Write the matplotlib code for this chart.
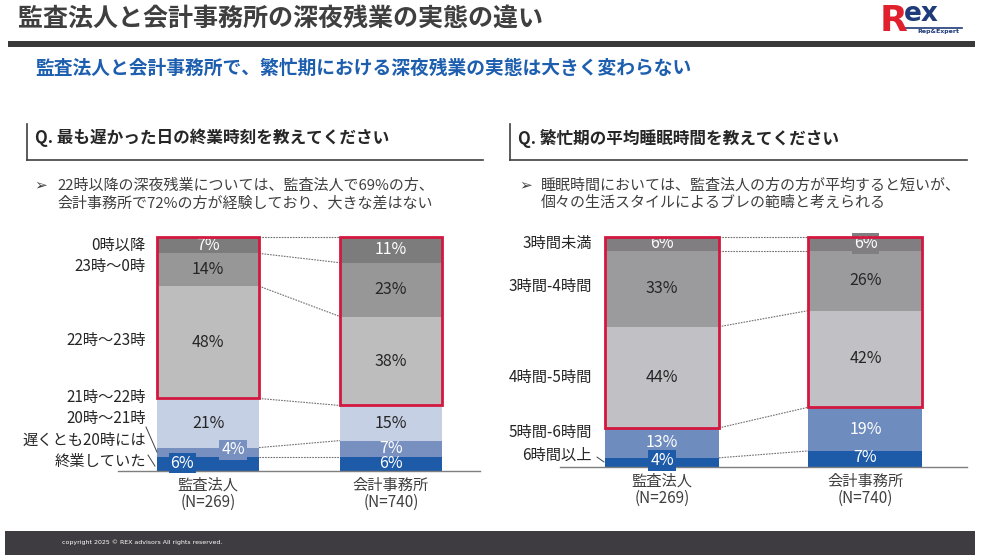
import matplotlib
matplotlib.use("Agg")
import matplotlib.pyplot as plt
from matplotlib.patches import Rectangle
from matplotlib.lines import Line2D
import numpy as np

plt.rcParams['font.family'] = ['Noto Sans CJK JP', 'DejaVu Sans']

# ---------------- data ----------------
title = "監査法人と会計事務所の深夜残業の実態の違い"
subtitle = "監査法人と会計事務所で、繁忙期における深夜残業の実態は大きく変わらない"
q_left = "Q. 最も遅かった日の終業時刻を教えてください"
q_right = "Q. 繁忙期の平均睡眠時間を教えてください"
note_left = ["22時以降の深夜残業については、監査法人で69%の方、",
             "会計事務所で72%の方が経験しており、大きな差はない"]
note_right = ["睡眠時間においては、監査法人の方の方が平均すると短いが、",
              "個々の生活スタイルによるブレの範疇と考えられる"]
footer = "copyright 2025 © REX advisors All rights reserved."

groups = ["監査法人\n(N=269)", "会計事務所\n(N=740)"]

left_categories = ["遅くとも20時には\n終業していた", "20時〜21時", "21時〜22時",
                   "22時〜23時", "23時〜0時", "0時以降"]
left_audit = [6, 4, 21, 48, 14, 7]
left_acct = [6, 7, 15, 38, 23, 11]

right_categories = ["6時間以上", "5時間-6時間", "4時間-5時間", "3時間-4時間", "3時間未満"]
right_audit = [4, 13, 44, 33, 6]
right_acct = [7, 19, 42, 26, 6]

# ---------------- style / layout ----------------
left_colors = ['#1d5aa8', '#7890c0', '#c6d0e4', '#bdbdbd', '#979797', '#7c7c7c']
left_text = ['white', 'white', '#262626', '#262626', '#262626', 'white']
right_colors = ['#1d5aa8', '#6f8cbf', '#c1c0c4', '#9b9a9c', '#807e81']
right_text = ['white', 'white', '#262626', '#262626', 'white']
left_cat_y = [8.6, 22.6, 31.2, 55.6, 87.2, 96.6]
right_cat_y = [5.2, 15.2, 39, 78.3, 97]
RED = '#d4173f'
W, H = 994, 558

fig = plt.figure(figsize=(W / 100, H / 100), dpi=100)
fig.patch.set_facecolor('white')


def fx(px):
    return px / W


def fy(py):
    return 1 - py / H


def hline(x0, x1, y, color, lw):
    fig.add_artist(Line2D([fx(x0), fx(x1)], [fy(y), fy(y)], color=color, lw=lw,
                          transform=fig.transFigure))


def vline(x, y0, y1, color, lw):
    fig.add_artist(Line2D([fx(x), fx(x)], [fy(y0), fy(y1)], color=color, lw=lw,
                          transform=fig.transFigure))


# title & header bar
fig.text(fx(18), fy(19), title, fontsize=18, fontweight='bold', color='#3f3f3f',
         ha='left', va='center')
fig.add_artist(Rectangle((fx(8), fy(47)), fx(975) - fx(8), 6 / H,
                         transform=fig.transFigure, color='#3a3a3a', lw=0))

# logo
fig.text(fx(880), fy(38), "R", fontsize=26, fontweight='bold', color='#e1202d',
         family='DejaVu Sans', ha='left', va='bottom')
fig.text(fx(904), fy(27), "ex", fontsize=19, fontweight='bold', color='#1f3b7a',
         family='DejaVu Sans', ha='left', va='bottom')
hline(905, 962, 28, '#1f3b7a', 1.2)
fig.text(fx(917), fy(32), "Rep&Expert", fontsize=4.5, fontweight='bold', color='#1f3b7a',
         family='DejaVu Sans', ha='left', va='center')

# subtitle
fig.text(fx(35), fy(68), subtitle, fontsize=13.5, fontweight='bold', color='#1d5fae',
         ha='left', va='center')

# question headers
for x0, x1, q in [(27, 483, q_left), (510, 967, q_right)]:
    vline(x0, 124, 160, '#404040', 1.2)
    hline(x0, x1, 160, '#404040', 1.2)
    fig.text(fx(x0 + 8), fy(138), q, fontsize=12, fontweight='bold', color='#262626',
             ha='left', va='center')

# notes
for xa, xt, lines in [(34, 57, note_left), (519, 541, note_right)]:
    fig.text(fx(xa), fy(185), "➢", fontsize=11, color='#404040', ha='left', va='center',
             family='DejaVu Sans')
    for i, ln in enumerate(lines):
        fig.text(fx(xt), fy(186 + 17 * i), ln, fontsize=10.8, color='#3f3f3f',
                 ha='left', va='center')

# footer
fig.add_artist(Rectangle((fx(5), fy(555)), fx(975) - fx(5), 24 / H,
                         transform=fig.transFigure, color='#3e3c40', lw=0))
fig.text(fx(62), fy(542.5), footer, fontsize=4.5, color='white', ha='left', va='center',
         family='DejaVu Sans')


def draw_chart(rect, xlim, width, series, colors, tcolors, cats, cat_y, cat_x,
               hl_start, label_tweaks, leaders):
    ax = fig.add_axes(rect)
    x = np.arange(len(groups))
    data = np.array(series)          # groups x segments
    cum = np.cumsum(data, axis=1)
    bottoms = cum - data
    nseg = data.shape[1]
    for i in range(nseg):
        ax.bar(x, data[:, i], bottom=bottoms[:, i], width=width, color=colors[i],
               edgecolor='none', zorder=2)
    # connectors
    for k in range(nseg):
        ax.plot([x[0] + width / 2, x[1] - width / 2], [cum[0, k], cum[1, k]],
                color='#6f6f6f', lw=0.8, ls=(0, (1.5, 1)), zorder=1, clip_on=False)
    # highlight boxes
    for g in range(len(groups)):
        b = bottoms[g, hl_start]
        ax.add_patch(Rectangle((x[g] - width / 2, b), width, cum[g, -1] - b, fill=False,
                               edgecolor=RED, lw=2, zorder=5, clip_on=False))
    # value labels
    for g in range(len(groups)):
        for i in range(nseg):
            dx, dy, boxed = label_tweaks.get((g, i), (0, 0, False))
            kw = {}
            if boxed:
                kw['bbox'] = dict(boxstyle='square,pad=0.12', fc=colors[i], ec='none')
            ax.text(x[g] + dx, bottoms[g, i] + data[g, i] / 2 + dy, f"{data[g, i]}%",
                    ha='center', va='center', fontsize=11.5, color=tcolors[i],
                    zorder=4, **kw)
    # category labels
    for c, yy in zip(cats, cat_y):
        ax.text(cat_x, yy, c, ha='right', va='center', fontsize=11, color='#262626',
                linespacing=1.3)
    for (xa, ya, xb, yb) in leaders:
        ax.plot([xa, xb], [ya, yb], color='#404040', lw=0.7, clip_on=False)
    ax.set_xlim(*xlim)
    ax.set_ylim(0, 100)
    ax.set_xticks(x)
    ax.set_xticklabels(groups, fontsize=11, color='#404040', linespacing=1.05)
    ax.set_yticks([])
    for s in ['top', 'left', 'right']:
        ax.spines[s].set_visible(False)
    ax.spines['bottom'].set_color('#7f7f7f')
    ax.spines['bottom'].set_linewidth(1)
    ax.tick_params(axis='x', length=0, pad=4)
    ax.patch.set_alpha(0)
    return ax


draw_chart([118 / W, (H - 471) / H, 362 / W, 234 / H], (-0.492, 1.486), 0.557,
           [left_audit, left_acct], left_colors, left_text, left_categories,
           left_cat_y, -0.34, 3,
           {(0, 1): (0.137, 1.0, True), (0, 0): (-0.14, 0.4, True)},
           [(-0.339, 18.8, -0.279, 8.1), (-0.328, 6.8, -0.29, 2.1)])

draw_chart([560 / W, (H - 467) / H, 407 / W, 230 / H], (-0.501, 1.499), 0.56,
           [right_audit, right_acct], right_colors, right_text, right_categories,
           right_cat_y, -0.344, 2,
           {(0, 0): (0, 1.0, True), (1, 4): (0, 0, True), (1, 0): (0, 0.8, False)},
           [(-0.319, 4.3, -0.285, 2.2)])

fig.savefig("out.png", dpi=100, facecolor='white')
